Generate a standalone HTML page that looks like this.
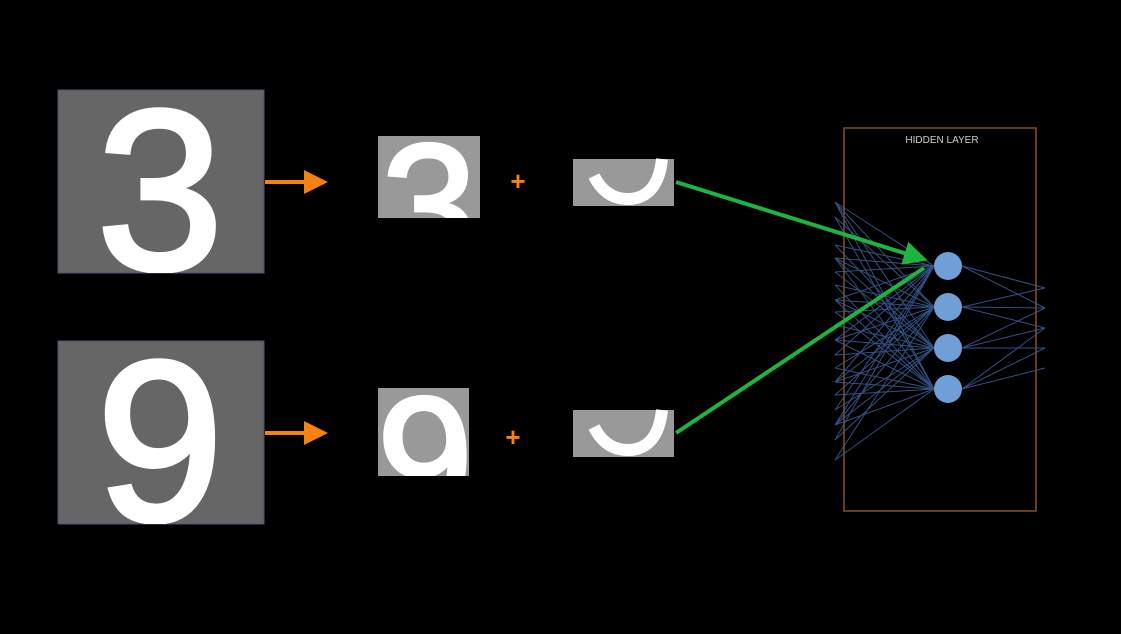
<!DOCTYPE html>
<html><head><meta charset="utf-8"><style>
html,body{margin:0;padding:0;background:#000;width:1121px;height:634px;overflow:hidden}
svg{display:block}
text{font-family:"Liberation Sans",sans-serif}
</style></head><body>
<svg id="c" width="1121" height="634" viewBox="0 0 1121 634">
<defs>
<clipPath id="c1"><rect x="58" y="90" width="206" height="183"/></clipPath>
<clipPath id="c2"><rect x="58" y="341" width="206" height="183"/></clipPath>
<clipPath id="c3"><rect x="378" y="136" width="102" height="82"/></clipPath>
<clipPath id="c4"><rect x="378" y="388" width="91" height="88"/></clipPath>
<marker id="ga" markerWidth="6" markerHeight="6" refX="4" refY="3" orient="auto" markerUnits="strokeWidth"><path d="M0,0 L6,3 L0,6 Z" fill="#1db53f"/></marker>
<marker id="oa" markerWidth="6" markerHeight="6" refX="3" refY="3" orient="auto" markerUnits="strokeWidth"><path d="M0,0 L6,3 L0,6 Z" fill="#f7820f"/></marker>
</defs>

<g>
<rect x="58" y="90" width="206" height="183" fill="#666" stroke="#4a5670" stroke-width="1"/>
<text x="160" y="269" font-size="228" fill="#fff" stroke="#fff" stroke-width="5" text-anchor="middle" clip-path="url(#c1)">3</text>
</g>
<g>
<rect x="58" y="341" width="206" height="183" fill="#666" stroke="#4a5670" stroke-width="1"/>
<text x="160" y="520" font-size="228" fill="#fff" stroke="#fff" stroke-width="5" text-anchor="middle" clip-path="url(#c2)">9</text>
</g>

<line x1="265" y1="182" x2="316" y2="182" stroke="#f7820f" stroke-width="4" marker-end="url(#oa)"/>
<line x1="265" y1="433" x2="316" y2="433" stroke="#f7820f" stroke-width="4" marker-end="url(#oa)"/>

<g>
<rect x="378" y="136" width="102" height="82" fill="#999"/>
<text x="429" y="264" font-size="172" fill="#fff" stroke="#fff" stroke-width="4" text-anchor="middle" clip-path="url(#c3)">3</text>
</g>
<g>
<rect x="378" y="388" width="91" height="88" fill="#999"/>
<text x="425" y="517" font-size="172" fill="#fff" stroke="#fff" stroke-width="4" text-anchor="middle" clip-path="url(#c4)">9</text>
</g>

<text x="518" y="190" font-size="26" font-weight="bold" fill="#f7820f" text-anchor="middle">+</text>
<text x="513" y="446" font-size="26" font-weight="bold" fill="#f7820f" text-anchor="middle">+</text>

<g>
<rect x="573" y="159" width="101" height="47" fill="#999"/>
<path d="M594,176 Q606,200 630,199 Q658,197 662,159" fill="none" stroke="#fff" stroke-width="12"/>
</g>
<g>
<rect x="573" y="410" width="101" height="47" fill="#999"/>
<path d="M594,427 Q606,451 630,450 Q658,448 662,410" fill="none" stroke="#fff" stroke-width="12"/>
</g>

<g>
<rect x="844" y="128" width="192" height="383" fill="none" stroke="#8a5020" stroke-width="1.5"/>
<text x="942" y="143" font-size="10" fill="#ccc" text-anchor="middle">HIDDEN LAYER</text>
<g id="net" stroke="#3a5a92" stroke-width="1" opacity="0.9"></g>
<g id="nodes"></g>
</g>

<line x1="676" y1="182" x2="920" y2="258" stroke="#1db53f" stroke-width="4" marker-end="url(#ga)"/>
<line x1="676" y1="433" x2="924" y2="268" stroke="#1db53f" stroke-width="4"/>
</svg>
<script>
const inputYs=[202,217,245,258,272,285,300,312,325,340,355,368,382,395,410,425,440,460];
const nodeYs=[266,307,348,389];
const outYs=[288,308,328,348,368];
const ns="http://www.w3.org/2000/svg";
const net=document.getElementById('net'), nodes=document.getElementById('nodes');
inputYs.forEach((y,i)=>{nodeYs.forEach((ny,j)=>{
 if((i+j)%2===0||i%3===0){
 const l=document.createElementNS(ns,'line');
 l.setAttribute('x1',835);l.setAttribute('y1',y);l.setAttribute('x2',934);l.setAttribute('y2',ny);
 
 
 net.appendChild(l);}
});});
nodeYs.forEach((ny,j)=>{outYs.forEach((oy,k)=>{
 if(Math.abs(j-k)<=1){
 const l=document.createElementNS(ns,'line');
 l.setAttribute('x1',962);l.setAttribute('y1',ny);l.setAttribute('x2',1045);l.setAttribute('y2',oy);
 
 
 net.appendChild(l);}
});});
nodeYs.forEach(ny=>{
 const c=document.createElementNS(ns,'circle');
 c.setAttribute('cx',948);c.setAttribute('cy',ny);c.setAttribute('r',14);c.setAttribute('fill','#6f9fd6');
 
 
 nodes.appendChild(c);
});
</script>
</body></html>
